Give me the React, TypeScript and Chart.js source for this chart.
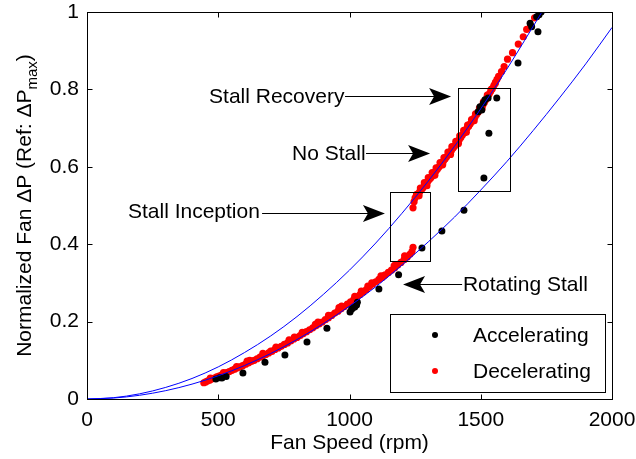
import { useEffect, useRef } from "react";
import { Chart, registerables } from "chart.js";

Chart.register(...registerables);

const FONT = '"Liberation Sans", Arial, Helvetica, sans-serif';

// Axis ticks
const xTicks = [0, 500, 1000, 1500, 2000];
const yTicks = [0, 0.2, 0.4, 0.6, 0.8, 1];

// Accelerating runs: fan speed (rpm) and normalized pressure rise
const accelRpm = [
  491, 505, 514, 530, 594, 678, 754, 838, 914, 1002, 1008, 1013, 1020, 1027, 1030,
  1112, 1187, 1276, 1352, 1436, 1512, 1531, 1490, 1497, 1504, 1510, 1516, 1528,
  1561, 1642, 1688, 1694, 1718, 1713, 1722, 1730,
];
const accelDp = [
  0.052, 0.055, 0.054, 0.058, 0.067, 0.095, 0.114, 0.147, 0.183, 0.225, 0.232, 0.236,
  0.238, 0.243, 0.25, 0.284, 0.321, 0.39, 0.434, 0.488, 0.571, 0.687, 0.742, 0.755,
  0.747, 0.765, 0.773, 0.778, 0.778, 0.868, 0.971, 0.962, 0.949, 0.988, 0.993, 1.0,
];

// Decelerating runs: fan speed (rpm) and normalized pressure rise
const decelRpm = [
  // rotating-stall branch
  445, 452, 460, 468, 476, 485, 494, 503, 512, 522, 532, 542, 552, 562, 572, 582, 593,
  604, 615, 626, 637, 648, 659, 670, 681, 692, 704, 716, 728, 740, 752, 764, 776, 788,
  800, 812, 824, 836, 848, 860, 872, 884, 896, 908, 920, 932, 944, 956, 968, 980, 992,
  1004, 1016, 1028, 1040, 1052, 1064, 1076, 1088, 1100, 1112, 1124, 1136, 1148, 1160,
  1172, 1184, 1196, 1208, 1220, 1230, 1238, 1242,
  610, 700, 790, 880, 960, 1045, 1085, 1130, 1175,
  470, 520, 570, 620, 670, 720, 770, 820, 870, 920, 970, 1020, 1070, 1120, 1170, 1210,
  // unstalled branch
  1242, 1246, 1250, 1256, 1262, 1268, 1274, 1280, 1286, 1292, 1298, 1304, 1310, 1316,
  1322, 1328, 1334, 1340, 1346, 1352, 1358, 1364, 1370, 1376, 1382, 1388, 1394, 1400,
  1406, 1412, 1418, 1424, 1430, 1436, 1442, 1448, 1454, 1460, 1466, 1472, 1478, 1484,
  1490, 1496, 1502, 1508, 1514, 1520, 1526, 1532, 1538, 1544, 1550, 1556, 1562, 1568,
  1579, 1589, 1602, 1621, 1643, 1662, 1675, 1690, 1705,
  1255, 1270, 1285, 1300, 1315, 1330, 1345, 1360, 1375, 1390, 1405, 1420, 1435, 1450,
  1465, 1480, 1495, 1510, 1525, 1540, 1555,
  1265, 1295, 1325, 1355, 1385, 1415, 1445, 1475, 1505,
];
const decelDp = [
  0.042, 0.044, 0.047, 0.049, 0.052, 0.054, 0.057, 0.059, 0.062, 0.065, 0.068, 0.071,
  0.074, 0.077, 0.08, 0.083, 0.086, 0.09, 0.093, 0.097, 0.1, 0.104, 0.108, 0.112, 0.115,
  0.119, 0.123, 0.128, 0.132, 0.136, 0.141, 0.145, 0.15, 0.155, 0.159, 0.164, 0.169,
  0.174, 0.179, 0.184, 0.189, 0.194, 0.199, 0.205, 0.21, 0.216, 0.222, 0.227, 0.233,
  0.239, 0.245, 0.251, 0.257, 0.263, 0.27, 0.276, 0.283, 0.29, 0.297, 0.303, 0.309,
  0.314, 0.321, 0.327, 0.333, 0.339, 0.346, 0.353, 0.36, 0.367, 0.374, 0.381, 0.392,
  0.098, 0.124, 0.16, 0.199, 0.236, 0.279, 0.3, 0.318, 0.347,
  0.054, 0.068, 0.084, 0.1, 0.118, 0.134, 0.153, 0.172, 0.193, 0.216, 0.24, 0.265,
  0.292, 0.318, 0.344, 0.37,
  0.494, 0.51, 0.52, 0.526, 0.531, 0.536, 0.541, 0.546, 0.552, 0.557, 0.562, 0.567,
  0.572, 0.577, 0.583, 0.588, 0.593, 0.599, 0.604, 0.609, 0.615, 0.62, 0.626, 0.631,
  0.637, 0.642, 0.648, 0.653, 0.659, 0.665, 0.67, 0.676, 0.682, 0.688, 0.694, 0.7,
  0.705, 0.711, 0.717, 0.723, 0.729, 0.735, 0.741, 0.747, 0.754, 0.76, 0.767, 0.774,
  0.781, 0.788, 0.795, 0.802, 0.81, 0.818, 0.826, 0.834, 0.846, 0.859, 0.878, 0.895,
  0.917, 0.936, 0.955, 0.965, 0.985,
  0.528, 0.545, 0.559, 0.572, 0.585, 0.597, 0.611, 0.624, 0.638, 0.652, 0.666, 0.68,
  0.694, 0.708, 0.722, 0.737, 0.752, 0.768, 0.785, 0.8, 0.815,
  0.525, 0.551, 0.578, 0.605, 0.632, 0.66, 0.689, 0.719, 0.75,
];

// Fitted fan curves (unstalled and stalled)
const fitHighRpm = [0, 100, 200, 300, 400, 500, 600, 700, 800, 900, 1000, 1100, 1200, 1300, 1400, 1500, 1600, 1733];
const fitHighDp = [0, 0.0033, 0.0133, 0.03, 0.053, 0.083, 0.12, 0.163, 0.213, 0.27, 0.333, 0.403, 0.48, 0.563, 0.653, 0.75, 0.853, 1.0];
const fitLowRpm = [0, 100, 200, 300, 400, 500, 600, 700, 800, 900, 1000, 1100, 1200, 1300, 1400, 1500, 1600, 1700, 1800, 1900, 2000];
const fitLowDp = [0, 0.0024, 0.0096, 0.0216, 0.0384, 0.06, 0.0864, 0.1176, 0.1536, 0.1944, 0.24, 0.29, 0.346, 0.406, 0.47, 0.54, 0.614, 0.694, 0.778, 0.866, 0.96];

// Highlighted regions (rpm range, dP range)
const regionRpm = [[1154, 1307], [1413, 1611]];
const regionDp = [[0.357, 0.535], [0.537, 0.804]];

// Callouts: label, label anchor (rpm, dP), arrow tail/tip rpm and arrow dP
const noteLabels = ["Stall Recovery", "No Stall", "Stall Inception", "Rotating Stall"];
const noteTextRpm = [465, 781, 156, 1432];
const noteTextDp = [0.779, 0.632, 0.482, 0.293];
const noteTailRpm = [983, 1063, 667, 1429];
const noteTipRpm = [1387, 1307, 1135, 1204];
const noteArrowDp = [0.783, 0.636, 0.481, 0.296];

const seriesNames = ["Accelerating", "Decelerating"];
const seriesColors = ["#000000", "#ff0000"];

const toPoints = (xs: number[], ys: number[]) => xs.map((x, i) => ({ x, y: ys[i] }));

function drawArrow(ctx: CanvasRenderingContext2D, x0: number, x1: number, y: number) {
  const dir = Math.sign(x1 - x0);
  ctx.beginPath();
  ctx.moveTo(x0, y);
  ctx.lineTo(x1 - dir * 14, y);
  ctx.stroke();
  ctx.beginPath();
  ctx.moveTo(x1, y);
  ctx.lineTo(x1 - dir * 22, y - 8.5);
  ctx.lineTo(x1 - dir * 17, y);
  ctx.lineTo(x1 - dir * 22, y + 8.5);
  ctx.closePath();
  ctx.fill();
}

const decorations = {
  id: "decorations",
  afterDatasetsDraw(chart: any) {
    const { ctx, scales } = chart;
    const xs = scales.x;
    const ys = scales.y;
    ctx.save();
    ctx.strokeStyle = "#000";
    ctx.fillStyle = "#000";
    ctx.lineWidth = 1;
    // region boxes
    regionRpm.forEach((r, i) => {
      const l = Math.round(xs.getPixelForValue(r[0])) + 0.5;
      const rr = Math.round(xs.getPixelForValue(r[1])) + 0.5;
      const t = Math.round(ys.getPixelForValue(regionDp[i][1])) + 0.5;
      const b = Math.round(ys.getPixelForValue(regionDp[i][0])) + 0.5;
      ctx.strokeRect(l, t, rr - l, b - t);
    });
    // callouts
    ctx.font = `21px ${FONT}`;
    ctx.textBaseline = "middle";
    ctx.textAlign = "left";
    noteLabels.forEach((label, i) => {
      ctx.fillText(label, xs.getPixelForValue(noteTextRpm[i]), ys.getPixelForValue(noteTextDp[i]));
      const ay = Math.round(ys.getPixelForValue(noteArrowDp[i])) + 0.5;
      drawArrow(ctx, xs.getPixelForValue(noteTailRpm[i]), xs.getPixelForValue(noteTipRpm[i]), ay);
    });
    ctx.restore();
  },
  afterDraw(chart: any) {
    const { ctx, chartArea, scales } = chart;
    const { left, right, top, bottom } = chartArea;
    const xs = scales.x;
    const ys = scales.y;
    ctx.save();
    ctx.strokeStyle = "#000";
    ctx.lineWidth = 1;
    const L = Math.round(left) + 0.5;
    const R = Math.round(right) + 0.5;
    const T = Math.round(top) + 0.5;
    const B = Math.round(bottom) + 0.5;
    ctx.strokeRect(L, T, R - L, B - T);
    ctx.beginPath();
    xTicks.forEach((v) => {
      const px = Math.round(xs.getPixelForValue(v)) + 0.5;
      ctx.moveTo(px, B);
      ctx.lineTo(px, B - 5);
      ctx.moveTo(px, T);
      ctx.lineTo(px, T + 5);
    });
    yTicks.forEach((v) => {
      const py = Math.round(ys.getPixelForValue(v)) + 0.5;
      ctx.moveTo(L, py);
      ctx.lineTo(L + 5, py);
      ctx.moveTo(R, py);
      ctx.lineTo(R - 5, py);
    });
    ctx.stroke();

    // legend
    const lx = 390.5, ly = 314.5, lw = 215, lh = 78;
    ctx.fillStyle = "#fff";
    ctx.fillRect(lx, ly, lw, lh);
    ctx.strokeRect(lx, ly, lw, lh);
    ctx.font = `21px ${FONT}`;
    ctx.textBaseline = "middle";
    ctx.textAlign = "left";
    seriesNames.forEach((name, i) => {
      const cy = 335 + i * 36;
      ctx.fillStyle = seriesColors[i];
      ctx.beginPath();
      ctx.arc(435, cy, 3, 0, Math.PI * 2);
      ctx.fill();
      ctx.fillStyle = "#000";
      ctx.fillText(name, 473, cy + 1);
    });

    // axis titles
    ctx.fillStyle = "#000";
    ctx.textAlign = "center";
    ctx.textBaseline = "alphabetic";
    ctx.fillText("Fan Speed (rpm)", (left + right) / 2, 449);

    ctx.save();
    ctx.translate(31, (top + bottom) / 2);
    ctx.rotate(-Math.PI / 2);
    const main = "Normalized Fan \u0394P (Ref: \u0394P";
    ctx.font = `21px ${FONT}`;
    const wMain = ctx.measureText(main).width;
    const wClose = ctx.measureText(")").width;
    ctx.font = `15px ${FONT}`;
    const wSub = ctx.measureText("max").width;
    const start = -(wMain + wSub + wClose) / 2;
    ctx.textAlign = "left";
    ctx.font = `21px ${FONT}`;
    ctx.fillText(main, start, 0);
    ctx.fillText(")", start + wMain + wSub, 0);
    ctx.font = `15px ${FONT}`;
    ctx.fillText("max", start + wMain, 6);
    ctx.restore();

    ctx.restore();
  },
};

export default function App() {
  const canvasRef = useRef<HTMLCanvasElement | null>(null);

  useEffect(() => {
    const canvas = canvasRef.current;
    if (!canvas) return;
    const tickFont = { family: FONT, size: 21 };
    const chart = new Chart(canvas, {
      type: "scatter",
      data: {
        datasets: [
          {
            type: "line",
            label: "fit-high",
            data: toPoints(fitHighRpm, fitHighDp),
            borderColor: "#0000ff",
            borderWidth: 1,
            pointRadius: 0,
            fill: false,
            cubicInterpolationMode: "monotone",
          },
          {
            type: "line",
            label: "fit-low",
            data: toPoints(fitLowRpm, fitLowDp),
            borderColor: "#0000ff",
            borderWidth: 1,
            pointRadius: 0,
            fill: false,
            cubicInterpolationMode: "monotone",
          },
          {
            label: seriesNames[0],
            data: toPoints(accelRpm, accelDp),
            backgroundColor: seriesColors[0],
            pointRadius: 3.5,
            pointBorderWidth: 0,
            showLine: false,
          },
          {
            label: seriesNames[1],
            data: toPoints(decelRpm, decelDp),
            backgroundColor: seriesColors[1],
            pointRadius: 3.6,
            pointBorderWidth: 0,
            showLine: false,
          },
        ],
      } as any,
      options: {
        animation: false,
        responsive: false,
        devicePixelRatio: 1,
        events: [],
        layout: { padding: { top: 12, right: 24, left: 0, bottom: 0 } },
        plugins: { legend: { display: false }, tooltip: { enabled: false } },
        scales: {
          x: {
            type: "linear",
            min: 0,
            max: 2000,
            afterBuildTicks: (s: any) => {
              s.ticks = xTicks.map((value) => ({ value }));
            },
            afterFit: (s: any) => {
              s.height = 60;
              s.paddingLeft = 0;
              s.paddingRight = 0;
            },
            grid: { display: false, drawTicks: false },
            border: { display: false },
            ticks: {
              font: tickFont,
              color: "#000",
              padding: 9,
              maxRotation: 0,
              autoSkip: false,
              callback: (v: any) => String(v),
            },
          },
          y: {
            type: "linear",
            min: 0,
            max: 1,
            afterBuildTicks: (s: any) => {
              s.ticks = yTicks.map((value) => ({ value }));
            },
            afterFit: (s: any) => {
              s.width = 87;
              s.paddingTop = 0;
              s.paddingBottom = 0;
            },
            grid: { display: false, drawTicks: false },
            border: { display: false },
            ticks: {
              font: tickFont,
              color: "#000",
              padding: 8,
              autoSkip: false,
              callback: (v: any) => String(v),
            },
          },
        },
      } as any,
      plugins: [decorations],
    });
    return () => chart.destroy();
  }, []);

  return (
    <div style={{ position: "fixed", left: 0, top: 0, width: 636, height: 459, background: "#fff" }}>
      <canvas ref={canvasRef} width={636} height={459} style={{ width: 636, height: 459 }} />
    </div>
  );
}
